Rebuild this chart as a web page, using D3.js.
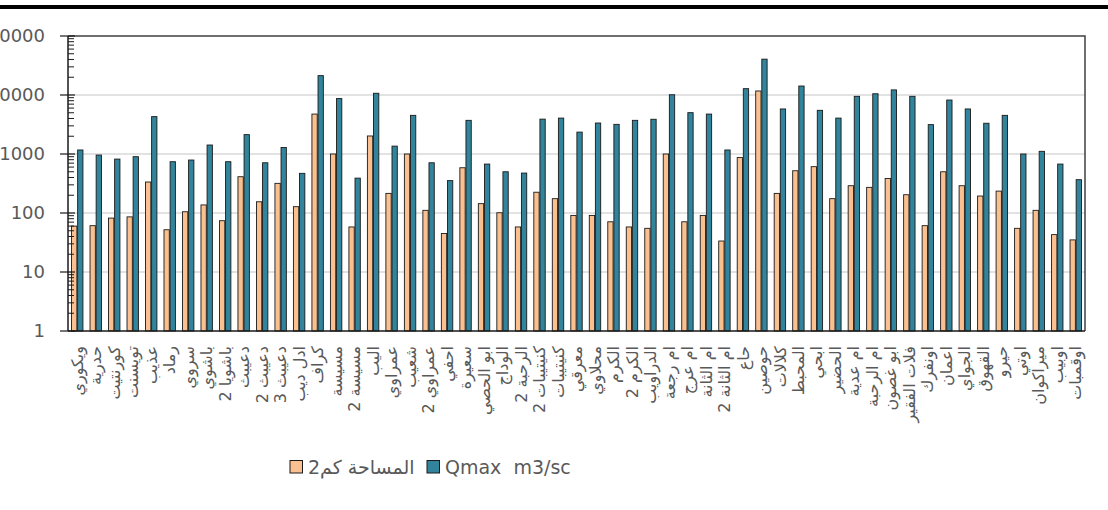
<!DOCTYPE html>
<html>
<head>
<meta charset="utf-8">
<script src="https://cdn.jsdelivr.net/npm/d3@7"></script>
<style>
  html, body { margin: 0; padding: 0; background: #fff; }
  svg { display: block; }
  text { font-family: "DejaVu Sans", "Noto Sans", sans-serif; fill: #595959; }
</style>
</head>
<body>
<svg id="chart" width="1108" height="510"></svg>
<script>
const categories = [
  "ويكوري","حدرية","كورنتيت","تويسنت","عذيب","رماد","سروي","باشوي","باشويا 2","دعيبث",
  "دعيبث 2","دعيبث 3","ادل ديب","كراف","مسيسة","مسيسة 2","اليب","عمراوي","شعيب","عمراوي 2",
  "احفي","سعيرة","ابو الحصي","الوداج","الرحبة 2","كنيتيبات 2","كنيتيبات","معرقي","محلاوي","الكرم",
  "الكرم 2","الدراويب","ام رجعة","ام عرج","ام الثانة","ام الثانة 2","حاع","حوصين","كلالات","المحبط",
  "ابحي","الحضير","ام عدية","ام الرحبة","ابو غصون","فلات الفقير","اونفرك","اعمان","الجواي","القهوق",
  "حيرو","اوتي","ميراكوان","اوبيب","اوقمبات"
];
// المساحة كم2
const area = [
  60,61,82,86,335,52,105,137,74,412,
  155,318,128,4750,1000,58,2020,215,1000,111,
  45,585,144,101,58,225,175,91,91,71,
  58,55,1000,71,91,33.5,870,11700,215,520,
  610,175,290,272,385,204,61,500,290,194,
  235,55,111,43,35
];
// Qmax m3/s
const qmax = [
  1170,960,820,900,4300,740,790,1420,740,2130,
  710,1290,470,21300,8700,390,10700,1360,4520,710,
  354,3720,675,500,475,3900,4060,2350,3350,3180,
  3720,3880,10100,5020,4750,1170,12800,40500,5800,14200,
  5500,4060,9500,10500,12200,9500,3150,8220,5800,3320,
  4520,1000,1110,675,367
];
const seriesNames = ["المساحة كم2", "Qmax  m3/sc"];
const yTicks = [1, 10, 100, 1000, 10000, 100000];
const colors = ["#FAC08F", "#31849B"];

const svg = d3.select("#chart");
const pL = 68, pR = 1085, pT = 36, pB = 331;

// top black frame line
svg.append("rect").attr("x", 0).attr("y", 5).attr("width", 1108).attr("height", 4).attr("fill", "#000");

const x0 = d3.scaleBand().domain(categories).range([pL, pR]).paddingInner(0.34).paddingOuter(0.17);
const x1 = d3.scaleBand().domain([0, 1]).range([0, x0.bandwidth()]);
const y = d3.scaleLog().domain([1, 100000]).range([pB, pT]);

// gridlines
svg.append("g").selectAll("line").data(yTicks.slice(1, -1)).join("line")
  .attr("x1", pL).attr("x2", pR)
  .attr("y1", d => y(d)).attr("y2", d => y(d))
  .attr("stroke", "#d9d9d9").attr("stroke-width", 1.5);

// plot border (top/right)
svg.append("path")
  .attr("d", `M${pL},${pT}H${pR}V${pB}`)
  .attr("fill", "none").attr("stroke", "#404040").attr("stroke-width", 1.5);

// bars
const rows = categories.map((c, i) => ({ c, vals: [area[i], qmax[i]] }));
const groups = svg.append("g").selectAll("g").data(rows).join("g")
  .attr("transform", d => `translate(${x0(d.c)},0)`);
groups.selectAll("rect").data(d => d.vals.map((v, k) => ({ v, k }))).join("rect")
  .attr("x", d => x1(d.k) + 0.4)
  .attr("width", x1.bandwidth() - 0.8)
  .attr("y", d => y(d.v))
  .attr("height", d => y(1) - y(d.v))
  .attr("fill", d => colors[d.k])
  .attr("stroke", "#1a1a1a").attr("stroke-width", 0.9);

// left axis with minor ticks
const minor = [];
for (let e = 0; e < 5; e++) for (let m = 2; m <= 9; m++) minor.push(m * Math.pow(10, e));
const yAxisG = svg.append("g");
yAxisG.selectAll("line.minor").data(minor).join("line").attr("class", "minor")
  .attr("x1", pL).attr("x2", pL + 6)
  .attr("y1", d => y(d)).attr("y2", d => y(d))
  .attr("stroke", "#1a1a1a").attr("stroke-width", 1);
yAxisG.selectAll("line.major").data(yTicks).join("line").attr("class", "major")
  .attr("x1", pL - 8).attr("x2", pL + 7)
  .attr("y1", d => y(d)).attr("y2", d => y(d))
  .attr("stroke", "#1a1a1a").attr("stroke-width", 1.2);
yAxisG.append("line").attr("x1", pL).attr("x2", pL).attr("y1", pT).attr("y2", pB)
  .attr("stroke", "#1a1a1a").attr("stroke-width", 1.5);
yAxisG.selectAll("text").data(yTicks).join("text")
  .attr("x", 45).attr("y", d => y(d)).attr("dy", "0.36em")
  .attr("text-anchor", "end").attr("font-size", 18)
  .text(d => d3.format("d")(d));

// bottom axis
svg.append("line").attr("x1", pL).attr("x2", pR).attr("y1", pB).attr("y2", pB)
  .attr("stroke", "#1a1a1a").attr("stroke-width", 1.5);
svg.append("g").selectAll("text").data(categories).join("text")
  .attr("transform", d => `translate(${x0(d) + x0.bandwidth() / 2},346) rotate(-90)`)
  .attr("text-anchor", "end").attr("dy", "0.35em")
  .attr("font-size", 16)
  .text(d => d);

// legend
const legend = svg.append("g");
const lx = [290, 427];
seriesNames.forEach((name, k) => {
  legend.append("rect").attr("x", lx[k]).attr("y", 460.5).attr("width", 12.5).attr("height", 12.5)
    .attr("fill", colors[k]).attr("stroke", "#1a1a1a").attr("stroke-width", 1);
  legend.append("text").attr("x", lx[k] + 18).attr("y", 473.5)
    .attr("font-size", 19).style("white-space", "pre")
    .text(name);
});
</script>
</body>
</html>
